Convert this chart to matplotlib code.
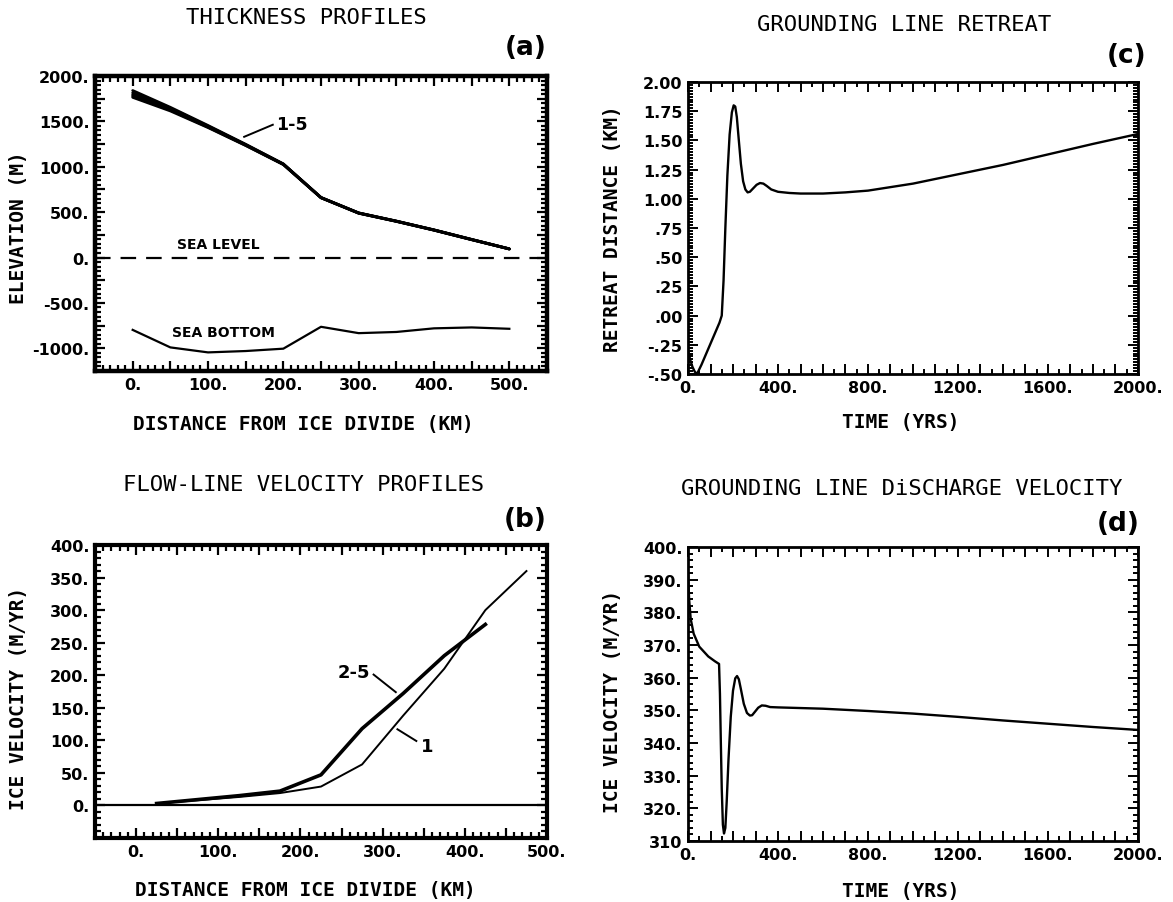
import numpy as np
import matplotlib
matplotlib.use("Agg")
import matplotlib.pyplot as plt
from matplotlib.ticker import FixedLocator, MultipleLocator
from matplotlib.font_manager import FontProperties

# ---------------- data ----------------
# (a) thickness profiles: surface elevation for runs 1-5 and bed
dist_a = [0, 50, 100, 150, 200, 250, 300, 350, 400, 450, 500]
surf_1 = [1840, 1655, 1455, 1248, 1032, 662, 492, 402, 305, 200, 96]
surf_2 = [1815, 1645, 1448, 1244, 1030, 661, 491, 401, 304, 199, 95]
surf_3 = [1795, 1635, 1442, 1240, 1028, 660, 490, 400, 303, 198, 95]
surf_4 = [1780, 1625, 1437, 1237, 1026, 659, 489, 399, 302, 197, 94]
surf_5 = [1765, 1615, 1432, 1234, 1024, 658, 488, 398, 301, 196, 94]
bed = [-797, -990, -1045, -1030, -1004, -763, -833, -820, -780, -770, -785]

# (b) flow-line velocity profiles
dist_b = [25, 75, 125, 175, 225, 275, 325, 375, 425, 475]
vel_run1 = [3, 8, 13, 19, 29, 63, 138, 210, 300, 360]
dist_b25 = [25, 75, 125, 175, 225, 275, 325, 375, 425]
vel_run2_5 = [3, 9, 15, 22, 47, 118, 172, 230, 278]

# (c) grounding line retreat (km) vs time (yr)
time_c = [0, 10, 20, 30, 40, 60, 80, 100, 120, 140, 150, 158, 166, 175, 185,
          195, 203, 210, 217, 225, 235, 245, 255, 265, 275, 290, 305, 320,
          335, 350, 370, 400, 450, 500, 600, 700, 800, 1000, 1200, 1400,
          1600, 1800, 2000]
retreat = [-0.30, -0.38, -0.44, -0.48, -0.50, -0.42, -0.33, -0.24, -0.15,
           -0.06, 0.00, 0.30, 0.75, 1.20, 1.55, 1.74, 1.80, 1.79, 1.70, 1.52,
           1.30, 1.15, 1.08, 1.055, 1.06, 1.09, 1.12, 1.135, 1.13, 1.11,
           1.08, 1.06, 1.05, 1.045, 1.045, 1.055, 1.07, 1.13, 1.21, 1.29,
           1.38, 1.47, 1.555]

# (d) grounding line discharge velocity (m/yr) vs time (yr)
time_d = [0, 5, 12, 25, 50, 90, 120, 138, 142, 146, 150, 155, 160, 166, 172,
          180, 190, 200, 210, 218, 226, 235, 248, 262, 275, 285, 298, 312,
          328, 345, 365, 400, 600, 800, 1000, 1200, 1400, 1600, 1800, 2000]
discharge = [392, 384, 378, 373.5, 369.5, 366.5, 365.0, 364.2, 355, 340,
             326, 315, 312.3, 314, 322, 335, 348, 356, 359.8, 360.5, 359.5,
             356.5, 352, 349.2, 348.4, 348.5, 349.6, 350.8, 351.5, 351.4,
             351.0, 350.9, 350.5, 349.8, 349.0, 348.0, 346.9, 345.9, 344.9,
             344.0]

# tick labels
xt_a = [0, 100, 200, 300, 400, 500]
xl_a = ["0.", "100.", "200.", "300.", "400.", "500."]
yt_a = [-1000, -500, 0, 500, 1000, 1500, 2000]
yl_a = ["-1000.", "-500.", "0.", "500.", "1000.", "1500.", "2000."]
yt_b = [0, 50, 100, 150, 200, 250, 300, 350, 400]
yl_b = ["0.", "50.", "100.", "150.", "200.", "250.", "300.", "350.", "400."]
xt_t = [0, 400, 800, 1200, 1600, 2000]
xl_t = ["0.", "400.", "800.", "1200.", "1600.", "2000."]
yt_c = [-0.5, -0.25, 0, 0.25, 0.5, 0.75, 1.0, 1.25, 1.5, 1.75, 2.0]
yl_c = ["-.50", "-.25", ".00", ".25", ".50", ".75", "1.00", "1.25", "1.50",
        "1.75", "2.00"]
yt_d = [310, 320, 330, 340, 350, 360, 370, 380, 390, 400]
yl_d = ["310", "320.", "330.", "340.", "350.", "360.", "370.", "380.",
        "390.", "400."]

# ---------------- figure ----------------
W, H = 1173, 903
fig = plt.figure(figsize=(W / 100, H / 100), dpi=100)
fig.patch.set_facecolor("white")

TICKPROP = FontProperties(family="DejaVu Sans", weight="bold", size=11.5)
TITLEFONT = dict(family="DejaVu Sans Mono", size=16)
LABELFONT = dict(family="DejaVu Sans Mono", weight="bold", size=14)
NOTE = dict(family="DejaVu Sans", fontweight="bold")


def px_axes(x0, y0, x1, y1):
    return fig.add_axes([x0 / W, 1 - y1 / H, (x1 - x0) / W, (y1 - y0) / H])


def ftext(x, y, s, **kw):
    fig.text(x / W, 1 - y / H, s, **kw)


def set_axis(axis, labelled, labels, step, minor_step):
    """Major ticks every `step`, text only on the labelled values."""
    lo = min(labelled)
    hi = max(labelled)
    n = int(round((hi - lo) / step))
    pos = [lo + i * step for i in range(n + 1)]
    lookup = {round(v, 6): s for v, s in zip(labelled, labels)}
    txt = [lookup.get(round(p, 6), "") for p in pos]
    axis.set_major_locator(FixedLocator(pos))
    axis.set_ticklabels(txt)
    axis.set_minor_locator(MultipleLocator(minor_step))


def style(ax, frame_lw, major_len, minor_len, tick_w):
    for sp in ax.spines.values():
        sp.set_linewidth(frame_lw)
    ax.tick_params(which="both", direction="in", top=True, right=True,
                   width=tick_w, pad=4)
    ax.tick_params(which="major", length=major_len)
    ax.tick_params(which="minor", length=minor_len)
    for lab in ax.get_xticklabels() + ax.get_yticklabels():
        lab.set_fontproperties(TICKPROP)


# ---- (a) thickness profiles ----
ax_a = px_axes(95, 77, 547, 372)
for s in (surf_1, surf_2, surf_3, surf_4, surf_5):
    ax_a.plot(dist_a, s, color="black", lw=2.0, solid_capstyle="round")
ax_a.plot(dist_a, bed, color="black", lw=1.6)
ax_a.axhline(0, color="black", lw=1.6, dashes=(7, 4.5))
ax_a.set_xlim(-50, 550)
ax_a.set_ylim(-1250, 2000)
set_axis(ax_a.xaxis, xt_a, xl_a, 50, 10)
set_axis(ax_a.yaxis, yt_a, yl_a, 250, 50)
style(ax_a, 3.2, 7, 4, 1.6)
ax_a.text(114, 70, "SEA LEVEL", ha="center", va="bottom", fontsize=10,
          **NOTE)
ax_a.text(120, -825, "SEA BOTTOM", ha="center", va="center", fontsize=10,
          **NOTE)
ax_a.plot([148, 186], [1330, 1463], color="black", lw=1.4)
ax_a.text(190, 1470, "1-5", ha="left", va="center", fontsize=12.5, **NOTE)
ax_a.set_xlabel("DISTANCE FROM ICE DIVIDE (KM)", **LABELFONT)
ax_a.xaxis.set_label_coords(0.462, -0.145)
ax_a.set_ylabel("ELEVATION (M)", **LABELFONT)
ax_a.yaxis.set_label_coords(-0.148, 0.49)

# ---- (b) flow-line velocity profiles ----
ax_b = px_axes(95, 546, 547, 839)
ax_b.axhline(0, color="black", lw=1.6)
ax_b.plot(dist_b, vel_run1, color="black", lw=1.4)
ax_b.plot(dist_b25, vel_run2_5, color="black", lw=2.6)
ax_b.set_xlim(-50, 500)
ax_b.set_ylim(-50, 400)
set_axis(ax_b.xaxis, xt_a, xl_a, 50, 10)
set_axis(ax_b.yaxis, yt_b, yl_b, 50, 10)
style(ax_b, 3.0, 7, 4, 1.6)
ax_b.plot([289, 316], [201, 174], color="black", lw=1.4)
ax_b.text(285, 205, "2-5", ha="right", va="center", fontsize=13, **NOTE)
ax_b.plot([318, 341], [117, 99], color="black", lw=1.4)
ax_b.text(346, 92, "1", ha="left", va="center", fontsize=13, **NOTE)
ax_b.set_xlabel("DISTANCE FROM ICE DIVIDE (KM)", **LABELFONT)
ax_b.xaxis.set_label_coords(0.466, -0.145)
ax_b.set_ylabel("ICE VELOCITY (M/YR)", **LABELFONT)
ax_b.yaxis.set_label_coords(-0.148, 0.48)

# ---- (c) grounding line retreat ----
ax_c = px_axes(688, 83, 1138, 375)
ax_c.plot(time_c, retreat, color="black", lw=1.7)
ax_c.set_xlim(0, 2000)
ax_c.set_ylim(-0.5, 2.0)
set_axis(ax_c.xaxis, xt_t, xl_t, 100, 50)
set_axis(ax_c.yaxis, yt_c, yl_c, 0.25, 0.025)
style(ax_c, 2.0, 7, 3.5, 1.4)
ax_c.set_xlabel("TIME (YRS)", **LABELFONT)
ax_c.xaxis.set_label_coords(0.473, -0.13)
ax_c.set_ylabel("RETREAT DISTANCE (KM)", **LABELFONT)
ax_c.yaxis.set_label_coords(-0.147, 0.5)

# ---- (d) grounding line discharge velocity ----
ax_d = px_axes(688, 548, 1138, 842)
ax_d.plot(time_d, discharge, color="black", lw=1.7)
ax_d.set_xlim(0, 2000)
ax_d.set_ylim(310, 400)
set_axis(ax_d.xaxis, xt_t, xl_t, 100, 50)
set_axis(ax_d.yaxis, yt_d, yl_d, 10, 2)
style(ax_d, 2.0, 7, 3.5, 1.4)
ax_d.set_xlabel("TIME (YRS)", **LABELFONT)
ax_d.xaxis.set_label_coords(0.473, -0.135)
ax_d.set_ylabel("ICE VELOCITY (M/YR)", **LABELFONT)
ax_d.yaxis.set_label_coords(-0.147, 0.48)

# ---- titles and panel letters ----
ftext(306, 18, "THICKNESS PROFILES", ha="center", va="center", **TITLEFONT)
ftext(904, 25, "GROUNDING LINE RETREAT", ha="center", va="center",
      **TITLEFONT)
ftext(304, 485, "FLOW-LINE VELOCITY PROFILES", ha="center", va="center",
      **TITLEFONT)
ftext(902, 489, "GROUNDING LINE DiSCHARGE VELOCITY", ha="center",
      va="center", **TITLEFONT)
LETTER = dict(ha="right", va="center", fontsize=19, fontweight="bold",
              family="DejaVu Sans")
ftext(547, 48, "(a)", **LETTER)
ftext(1146, 56, "(c)", **LETTER)
ftext(547, 520, "(b)", **LETTER)
ftext(1140, 524, "(d)", **LETTER)

fig.savefig("out.png", dpi=100, facecolor="white")
